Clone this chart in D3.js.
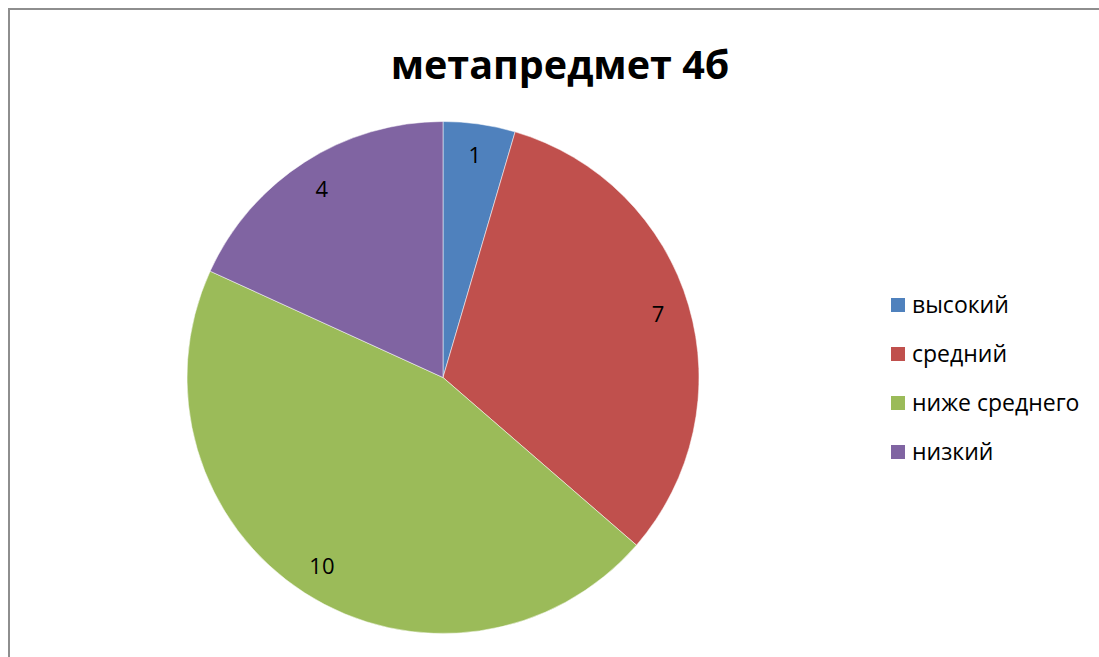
<!DOCTYPE html>
<html>
<head>
<meta charset="utf-8">
<script src="https://cdn.jsdelivr.net/npm/d3@7"></script>
<style>
  body { margin: 0; background: #fff; }
  svg { display: block; }
</style>
</head>
<body>
<script>
// chart data
const categories = ["высокий", "средний", "ниже среднего", "низкий"];
const values = [1, 7, 10, 4];
const colors = ["#4F81BD", "#C0504D", "#9BBB59", "#8064A2"];
const title = "метапредмет 4б";

const width = 1099;
const height = 657;
const font = "'Open Sans', 'DejaVu Sans', sans-serif";

const svg = d3.select("body").append("svg")
    .attr("width", width)
    .attr("height", height);

// chart frame, runs off the right and bottom edge
svg.append("rect")
    .attr("x", 9)
    .attr("y", 9)
    .attr("width", width + 20)
    .attr("height", height + 20)
    .style("fill", "#fff")
    .style("stroke", "#8e8e8e")
    .style("stroke-width", 2);

svg.append("text")
    .attr("x", 560)
    .attr("y", 79)
    .attr("text-anchor", "middle")
    .style("font-family", font)
    .style("font-weight", "bold")
    .style("font-size", "39.5px")
    .style("fill", "#000")
    .text(title);

const cx = 443, cy = 377.5, radius = 256;

const color = d3.scaleOrdinal().domain(categories).range(colors);

const pie = d3.pie().sort(null).value(d => d.value);
const data = pie(categories.map((c, i) => ({name: c, value: values[i]})));

const arc = d3.arc().innerRadius(0).outerRadius(radius);
const labelArc = d3.arc().innerRadius(224).outerRadius(224);

const g = svg.append("g")
    .attr("transform", `translate(${cx},${cy})`);

g.selectAll("path")
  .data(data)
  .join("path")
    .attr("d", arc)
    .attr("fill", d => color(d.data.name))
    .attr("stroke", "#fff")
    .attr("stroke-opacity", 0.5)
    .attr("stroke-width", 1);

g.selectAll("text")
  .data(data)
  .join("text")
    .attr("transform", d => `translate(${labelArc.centroid(d)})`)
    .attr("text-anchor", "middle")
    .attr("dy", "0.35em")
    .style("font-family", font)
    .style("font-size", "22px")
    .style("fill", "#000")
    .text(d => d.data.value);

// legend
const legend = svg.append("g")
    .attr("transform", "translate(891,298)");

const item = legend.selectAll("g")
  .data(categories)
  .join("g")
    .attr("transform", (d, i) => `translate(0,${i * 49})`);

item.append("rect")
    .attr("width", 14)
    .attr("height", 14)
    .attr("fill", d => color(d));

item.append("text")
    .attr("x", 21)
    .attr("y", 7)
    .attr("dy", "0.35em")
    .style("font-family", font)
    .style("font-size", "23px")
    .style("fill", "#000")
    .text(d => d);
</script>
</body>
</html>
